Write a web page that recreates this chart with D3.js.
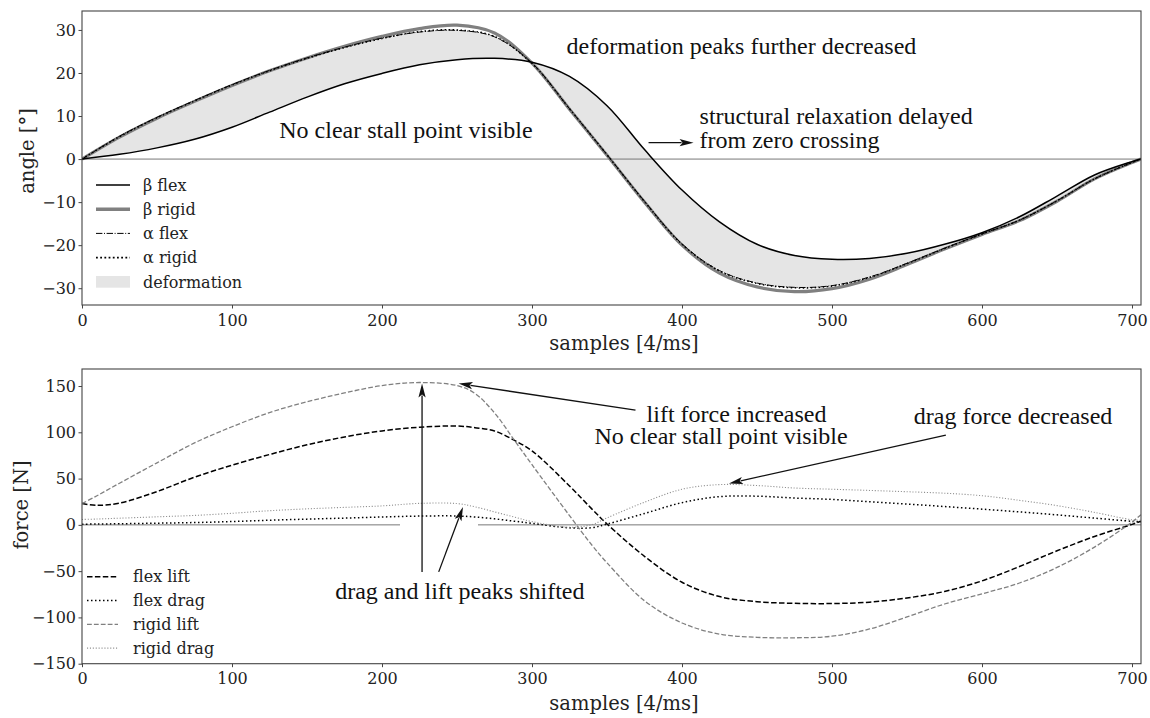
<!DOCTYPE html>
<html><head><meta charset="utf-8">
<script src="https://cdn.jsdelivr.net/npm/d3@7/dist/d3.min.js"></script>
<style>body{margin:0;background:#fff}</style>
</head><body>
<svg id="c" width="1150" height="718"></svg>
<script>
// ---------- data: top plot (angle) ----------
const angleSamples = [0,25,50,75,100,125,150,175,200,225,250,275,300,325,350,375,400,425,450,475,500,525,550,575,600,625,650,675,700,706];
const betaFlex   = [0,1.1,2.6,4.6,7.4,10.9,14.4,17.5,19.9,21.9,23.1,23.4,22.5,19.2,12.4,2.2,-7.2,-14.6,-19.8,-22.4,-23.3,-23.1,-21.9,-19.8,-17.1,-13.4,-8.6,-3.7,-0.6,0];
const betaRigid  = [0,5.1,9.5,13.4,17.1,20.5,23.5,26.2,28.5,30.3,31.1,29.3,22.3,11.6,0.9,-10.0,-20.0,-26.5,-29.7,-30.8,-30.1,-27.9,-24.5,-20.9,-17.5,-14.3,-9.8,-4.6,-0.8,0];
const alphaFlex  = [0,5.3,9.7,13.6,17.3,20.6,23.5,26.0,28.1,29.5,29.9,28.4,22.3,11.7,1.0,-9.8,-19.7,-25.9,-28.8,-29.8,-29.4,-27.4,-24.2,-20.7,-17.4,-14.2,-9.7,-4.6,-0.8,0];
const alphaRigid = [0,5.2,9.6,13.5,17.2,20.5,23.4,25.9,28.0,29.6,30.0,28.5,22.2,11.7,1.0,-9.9,-19.8,-26.0,-28.9,-29.9,-29.5,-27.5,-24.3,-20.8,-17.4,-14.2,-9.7,-4.6,-0.8,0];
const angleTicks = [-30,-20,-10,0,10,20,30];
const angleLegend = ["β flex","β rigid","α flex","α rigid","deformation"];

// ---------- data: bottom plot (force) ----------
const forceSamples = [0,10,25,50,75,100,125,150,175,200,225,250,262,275,288,300,325,340,350,375,400,425,450,475,500,525,550,575,600,625,650,675,700,706];
const flexLift  = [23,21.2,23.5,36,51.5,64.5,76,86.5,95,101.5,105.5,106.8,105,101.5,91.5,80,42,17,1,-34,-62,-77.5,-83,-84.8,-85,-83.5,-79,-72,-60.5,-45,-28,-12.5,0.5,4];
const flexDrag  = [0.7,0.9,1.2,1.8,2.5,3.6,5,6.2,7.3,8.5,9.5,9.6,8.5,6.5,4,1.6,-3.2,-3.0,0.8,12.3,24,30.5,31,29,27.5,25,22.5,19.8,17,14,10.8,7.3,3.8,3];
const rigidLift = [23,31.5,45,67,88.5,106,121.3,133,142.5,150.5,153.8,150.5,142,121,92,65,10,-22,-41,-82,-106,-118,-121.5,-122,-120.3,-112.5,-99.5,-85.5,-74.5,-62.8,-46,-24,3,11];
const rigidDrag = [5.8,6.3,7.2,8.7,10.2,12.5,15.3,17.3,18.9,20.5,23.2,23,19.5,14,8.5,3.5,-2.6,0.3,7.5,24.5,38.5,43.5,42.5,39.8,38.5,37.2,35.8,34.2,31.5,26.5,20.8,13.5,5.5,5];
const forceTicks = [-150,-100,-50,0,50,100,150];
const forceLegend = ["flex lift","flex drag","rigid lift","rigid drag"];
const forceZeroSegments = [[0,212],[264,706]];

const sampleTicks = [0,100,200,300,400,500,600,700];
const xLabel = "samples [4/ms]";

// annotations (data coordinates)
const angleNotes = [
  {text:"No clear stall point visible", s:131.5, v:5.0},
  {text:"deformation peaks further decreased", s:323, v:24.5},
  {text:"structural relaxation delayed", s:411.7, v:8.2},
  {text:"from zero crossing", s:411.7, v:2.6}
];
const angleArrows = [[377.7,3.8,407.7,3.8]];
const forceNotes = [
  {text:"lift force increased", s:376.4, v:111.6},
  {text:"No clear stall point visible", s:341.6, v:87.6},
  {text:"drag force decreased", s:554.5, v:109.5},
  {text:"drag and lift peaks shifted", s:168.8, v:-80.6}
];
const forceArrows = [
  [369,123.9,251.1,152.7],
  [575.9,96.9,431.3,44.7],
  [226.7,-50.8,226.7,152.7],
  [237.8,-50.8,254,19.4]
];

// ---------- drawing ----------
const svg = d3.select("#c");
const L = 82, R = 1141;
const x = d3.scaleLinear().domain([0,706]).range([L,R]);
const yTop = d3.scaleLinear().domain([-33.9,34.4]).range([305,11]);
const yBot = d3.scaleLinear().domain([-150,168.4]).range([663.7,369]);
const tickFont = "'DejaVu Serif', serif";
const noteFont = "'Liberation Serif', 'Times New Roman', serif";
const curve = d3.curveCatmullRom.alpha(0.5);

const defs = svg.append("defs");
function clip(id, y){
  defs.append("clipPath").attr("id",id).append("rect")
    .attr("x",L).attr("y",y.range()[1]).attr("width",R-L).attr("height",y.range()[0]-y.range()[1]);
}
clip("clipTop",yTop); clip("clipBot",yBot);

function lineGen(xs, ys, y){
  return d3.line().x((d,i)=>x(xs[i])).y((d,i)=>y(ys[i])).curve(curve)(ys);
}

function axes(y, ticks, ylabel, ylabelX, ylabelY, xlabelY){
  const g = svg.append("g");
  const ax = g.append("g").attr("transform",`translate(0,${y.range()[0]})`)
    .call(d3.axisBottom(x).tickValues(sampleTicks).tickSize(3.5).tickPadding(5.8).tickFormat(d3.format("d")));
  const ay = g.append("g").attr("transform",`translate(${L},0)`)
    .call(d3.axisLeft(y).tickValues(ticks).tickSize(3.5).tickPadding(2.5));
  [ax,ay].forEach(a=>{
    a.select(".domain").remove();
    a.selectAll("line").attr("stroke","#444").attr("stroke-width",1);
    a.selectAll("text").attr("font-family",tickFont).attr("font-size",16).attr("fill","#222");
  });
  g.append("rect").attr("x",L).attr("y",y.range()[1]).attr("width",R-L).attr("height",y.range()[0]-y.range()[1])
    .attr("fill","none").attr("stroke","#444").attr("stroke-width",1.1);
  g.append("text").attr("x",624).attr("y",xlabelY).attr("text-anchor","middle")
    .attr("font-family",tickFont).attr("font-size",19.5).attr("fill","#222").text(xLabel);
  g.append("text").attr("transform",`translate(${ylabelX},${ylabelY}) rotate(-90)`).attr("text-anchor","middle")
    .attr("font-family",tickFont).attr("font-size",19.5).attr("fill","#222").text(ylabel);
}

function arrow(g, a, y){
  const x0=x(a[0]), y0=y(a[1]), x1=x(a[2]), y1=y(a[3]);
  const dx=x1-x0, dy=y1-y0, len=Math.hypot(dx,dy), ux=dx/len, uy=dy/len;
  const hl=14, hw=3.6;
  const bx=x1-ux*hl, by=y1-uy*hl;
  g.append("line").attr("x1",x0).attr("y1",y0).attr("x2",bx+ux*2).attr("y2",by+uy*2)
    .attr("stroke","#111").attr("stroke-width",1.3);
  g.append("path").attr("d",`M${x1},${y1}L${bx-uy*hw},${by+ux*hw}L${bx+ux*3},${by+uy*3}L${bx+uy*hw},${by-ux*hw}Z`)
    .attr("fill","#111");
}

function notes(list, y){
  list.forEach(n=>svg.append("text").attr("x",x(n.s)).attr("y",y(n.v))
    .attr("font-family",noteFont).attr("font-size",24).attr("fill","#111").text(n.text));
}

// ---- top plot ----
const gTop = svg.append("g").attr("clip-path","url(#clipTop)");
gTop.append("path")
  .attr("d", d3.area().x((d,i)=>x(angleSamples[i])).y0((d,i)=>yTop(betaFlex[i])).y1((d,i)=>yTop(alphaFlex[i])).curve(curve)(angleSamples))
  .attr("fill","#e5e5e5");
gTop.append("line").attr("x1",x(0)).attr("x2",x(706)).attr("y1",yTop(0)).attr("y2",yTop(0)).attr("stroke","#777").attr("stroke-width",1);
const topStyles = [
  {d:betaRigid, stroke:"#808080", w:3.2, dash:null},
  {d:betaFlex, stroke:"#000", w:1.5, dash:null},
  {d:alphaFlex, stroke:"#000", w:1, dash:"6.4,1.6,1,1.6"},
  {d:alphaRigid, stroke:"#000", w:1.5, dash:"1.5,2.5"}
];
topStyles.forEach(s=>gTop.append("path").attr("d",lineGen(angleSamples,s.d,yTop)).attr("fill","none")
  .attr("stroke",s.stroke).attr("stroke-width",s.w).attr("stroke-dasharray",s.dash));
axes(yTop, angleTicks, "angle [°]", 34, 151, 350);

// top legend
const topLegStyles = [
  {stroke:"#000", w:1.5, dash:null},
  {stroke:"#808080", w:3.5, dash:null},
  {stroke:"#000", w:1, dash:"6.4,1.6,1,1.6"},
  {stroke:"#000", w:1.8, dash:"1.8,2.4"},
  {fill:"#e5e5e5"}
];
angleLegend.forEach((lab,i)=>{
  const cy = 185 + i*24.2;
  const st = topLegStyles[i];
  if(st.fill){
    svg.append("rect").attr("x",96).attr("y",cy-5.8).attr("width",34).attr("height",11.7).attr("fill",st.fill);
  } else {
    svg.append("line").attr("x1",96).attr("x2",130).attr("y1",cy).attr("y2",cy)
      .attr("stroke",st.stroke).attr("stroke-width",st.w).attr("stroke-dasharray",st.dash);
  }
  svg.append("text").attr("x",143).attr("y",cy+5.7).attr("font-family",tickFont).attr("font-size",16).attr("fill","#222").text(lab);
});
notes(angleNotes, yTop);
const gTopA = svg.append("g");
angleArrows.forEach(a=>arrow(gTopA,a,yTop));

// ---- bottom plot ----
const gBot = svg.append("g").attr("clip-path","url(#clipBot)");
forceZeroSegments.forEach(sg=>gBot.append("line").attr("x1",x(sg[0])).attr("x2",x(sg[1])).attr("y1",yBot(0)).attr("y2",yBot(0))
  .attr("stroke","#777").attr("stroke-width",1));
const botStyles = [
  {d:flexLift, stroke:"#000", w:1.5, dash:"5.5,2.4"},
  {d:flexDrag, stroke:"#000", w:1.5, dash:"1.5,2.5"},
  {d:rigidLift, stroke:"#808080", w:1.3, dash:"4.8,2.1"},
  {d:rigidDrag, stroke:"#909090", w:1.1, dash:"1.1,1.8"}
];
botStyles.forEach(s=>gBot.append("path").attr("d",lineGen(forceSamples,s.d,yBot)).attr("fill","none")
  .attr("stroke",s.stroke).attr("stroke-width",s.w).attr("stroke-dasharray",s.dash));
axes(yBot, forceTicks, "force [N]", 28, 505, 710);

forceLegend.forEach((lab,i)=>{
  const cy = 576.7 + i*23.8;
  const st = botStyles[i];
  svg.append("line").attr("x1",87).attr("x2",118).attr("y1",cy).attr("y2",cy)
    .attr("stroke",st.stroke).attr("stroke-width",st.w).attr("stroke-dasharray",st.dash);
  svg.append("text").attr("x",133).attr("y",cy+5.6).attr("font-family",tickFont).attr("font-size",16).attr("fill","#222").text(lab);
});
notes(forceNotes, yBot);
const gBotA = svg.append("g");
forceArrows.forEach(a=>arrow(gBotA,a,yBot));
</script>
</body></html>
